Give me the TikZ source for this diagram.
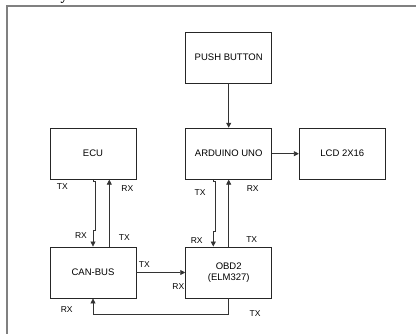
\documentclass[tikz,border=0pt]{standalone}
\usepackage{fontspec}
\setmainfont{Liberation Sans}
\newfontfamily\serifbold{Liberation Serif}
\usetikzlibrary{arrows.meta,calc}
\begin{document}
\begin{tikzpicture}[x=1pt,y=-1pt,
  blk/.style={draw=black!85, line width=0.9pt, minimum width=86pt, minimum height=51pt, inner sep=0pt, font=\fontsize{9.5}{11.5}\selectfont, align=center},
  lbl/.style={font=\fontsize{8.5}{10}\selectfont, inner sep=0pt},
  conn/.style={draw=black!80, line width=0.8pt},
  arr/.style={conn, -{Triangle[length=5pt,width=5pt]}}]
\useasboundingbox (0,0) rectangle (416,333);
% frame
\draw[gray, line width=1.3pt] (7,334) -- (7,6) -- (417,6);
\node[font=\serifbold\bfseries\fontsize{14}{14}\selectfont, anchor=base, inner sep=0pt] (cap) at (64,0) {y};
% blocks
\node[blk] (pb)  at (228.7,57.5)  {PUSH BUTTON};
\node[blk] (ard) at (228.7,153.7) {ARDUINO UNO};
\node[blk] (lcd) at (342.3,153.7) {LCD 2X16};
\node[blk] (ecu) at (93,153.7)    {ECU};
\node[blk] (can) at (93,272.5)    {CAN-BUS};
\node[blk] (obd) at (228.7,272.5) {OBD2\\(ELM327)};
% connectors
\draw[arr] (pb.south) -- (ard.north);
\draw[arr] (ard.east) -- (lcd.west);
\draw[arr] (ecu.south) -- ++(0,2) -- ++(2.5,0) -- ($(can.north)+(2.5,-16)$) -- ($(can.north)+(0,-16)$) -- (can.north);
\draw[arr] ($(can.north)+(16.3,0)$) -- ($(ecu.south)+(16.3,0)$);
\draw[arr] ($(ard.south)+(-15.4,0)$) -- ++(0,2) -- ++(2.4,0) -- ($(obd.north)+(-13,-15)$) -- ($(obd.north)+(-15.4,-15)$) -- ($(obd.north)+(-15.4,0)$);
\draw[arr] (obd.north) -- (ard.south);
\draw[arr] (can.east) -- (obd.west);
\draw[arr] (obd.south) -- ++(0,16) -| (can.south);
% labels
\node[lbl] (l1)  at (62.3,186.7)  {TX};
\node[lbl] (l2)  at (127.3,189)   {RX};
\node[lbl] (l3)  at (81,236)      {RX};
\node[lbl] (l4)  at (124.3,237.7) {TX};
\node[lbl] (l5)  at (200,192.3)   {TX};
\node[lbl] (l6)  at (252.7,189)   {RX};
\node[lbl] (l7)  at (196.7,240.5) {RX};
\node[lbl] (l8)  at (251.7,239.3) {TX};
\node[lbl] (l9)  at (144.3,265)   {TX};
\node[lbl] (l10) at (178.3,286.7) {RX};
\node[lbl] (l11) at (66.7,310)    {RX};
\node[lbl] (l12) at (255,313.3)   {TX};
\end{tikzpicture}
\end{document}
